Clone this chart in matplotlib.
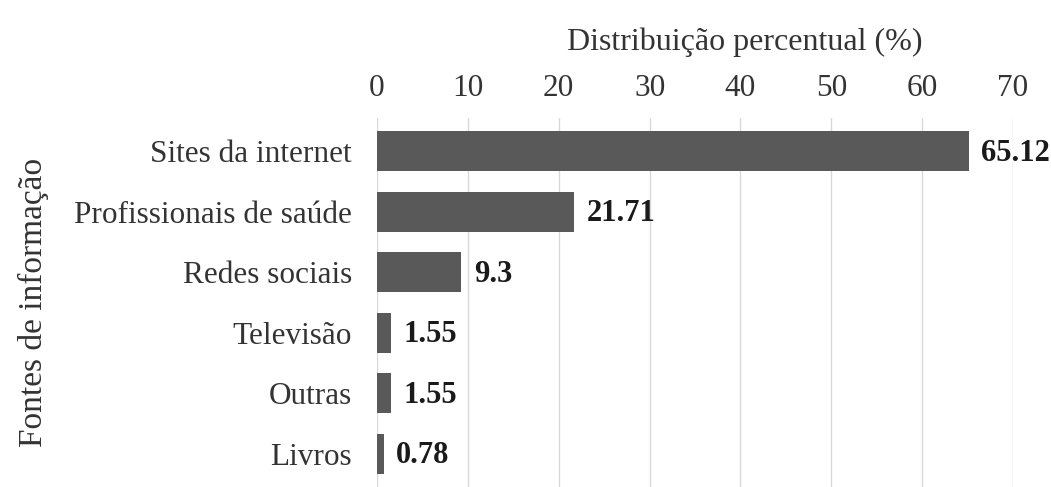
import matplotlib
matplotlib.use('Agg')
import matplotlib.pyplot as plt

plt.rcParams['font.family'] = ['Liberation Serif', 'DejaVu Serif']

# dados
fontes = ['Sites da internet', 'Profissionais de saúde', 'Redes sociais',
          'Televisão', 'Outras', 'Livros']
percentuais = [65.12, 21.71, 9.3, 1.55, 1.55, 0.78]
rotulos = ['65.12', '21.71', '9.3', '1.55', '1.55', '0.78']
ticks_x = [0, 10, 20, 30, 40, 50, 60, 70]

fig = plt.figure(figsize=(10.51, 4.87), dpi=100, facecolor='w')
ax = fig.add_axes([377 / 1051, 0.0, (1013 - 377) / 1051, 1 - 118 / 487])

pos = list(range(len(fontes)))
ax.barh(pos, percentuais, height=0.66, color='#595959', zorder=3)
for p, v, r in zip(pos, percentuais, rotulos):
    ax.text(v + 1.35, p + 0.03, r, va='center', ha='left', fontsize=22,
            fontweight='bold', color='#1a1a1a', clip_on=False)

ax.set_xlim(0, 70)
ax.set_ylim(5.55, -0.55)
ax.set_yticks(pos)
ax.set_yticklabels(fontes, fontsize=22.5, color='#333333')
ax.set_xticks(ticks_x)
ax.set_xticklabels([str(t) for t in ticks_x], fontsize=22.5, color='#333333')
ax.xaxis.tick_top()
ax.tick_params(length=0, pad=11)
ax.tick_params(axis='y', pad=18)
ax.grid(axis='x', color='#d9d9d9', linewidth=1.0, zorder=0)
for s in ax.spines.values():
    s.set_visible(False)

fig.text(745 / 1051, 1 - 42 / 487, 'Distribuição percentual (%)', ha='center',
         va='center', fontsize=23, color='#333333')
fig.text(33 / 1051, 1 - 302 / 487, 'Fontes de informação', ha='center',
         va='center', rotation=90, fontsize=24, color='#333333')

fig.savefig('out.png', dpi=100)
